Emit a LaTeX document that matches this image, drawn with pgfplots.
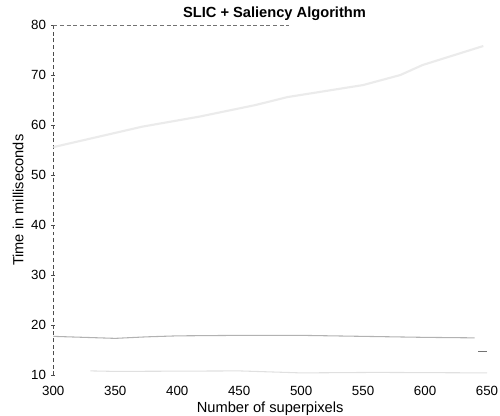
\documentclass[border=0pt]{standalone}
\usepackage{pgfplots}
\pgfplotsset{compat=1.18}
\usepackage{fontspec}
\setmainfont{Liberation Sans}

% faded scan: lines are read off as far as they can be seen
\pgfplotstableread{
x    t
300  55.6
372  59.7
418  61.7
463  64.0
489  65.6
550  68.0
580  70.0
598  72.0
647  75.8
}\upperdata
\pgfplotstableread{
x    t
300  17.8
350  17.4
375  17.7
400  17.9
450  18.0
500  18.0
550  17.8
600  17.6
640  17.5
}\lowerdata
\pgfplotstableread{
x    t
330  10.9
350  10.8
450  10.9
500  10.5
560  10.6
650  10.5
}\bottomdata

\begin{document}
\begin{tikzpicture}
\begin{axis}[
  scale only axis,
  width=325.5pt, height=263pt,
  xmin=300, xmax=650, ymin=10, ymax=80,
  xtick={300,350,...,650},
  ytick={10,20,...,80},
  /pgf/number format/assume math mode=true,
  tick label style={font=\fontsize{10}{11}\selectfont},
  xticklabel style={anchor=north, inner sep=0pt, yshift=-6.5pt},
  yticklabel style={anchor=east, inner sep=0pt, xshift=-3.75pt},
  title={\textbf{SLIC + Saliency Algorithm}},
  title style={font=\fontsize{11}{12}\selectfont,
    at={(axis description cs:0.51,1.0152)}, anchor=base, inner sep=0pt,
    yshift=-4.5pt},
  xlabel={Number of superpixels},
  ylabel={Time in milliseconds},
  label style={font=\fontsize{11}{12}\selectfont, inner sep=0pt},
  xlabel style={at={(axis description cs:0.5,-0.1055)}, anchor=base},
  ylabel style={at={(axis description cs:-0.0691,0.5)}, anchor=base},
  axis x line*=bottom,
  axis y line*=left,
  x axis line style={draw=none},
  y axis line style={densely dashed, black!70},
  xtick style={draw=none},
  ytick style={black!70},
  tick align=center,
  major tick length=3pt,
]
\addplot[black!8, line width=1.6pt] table[x=x, y=t] {\upperdata};
\addplot[black!30, line width=0.8pt] table[x=x, y=t] {\lowerdata};
\addplot[black!12, line width=0.8pt] table[x=x, y=t] {\bottomdata};
\addplot[black!55, line width=0.8pt] coordinates {(643,14.8) (650,14.8)};
\addplot[black!55, densely dashed, line width=0.6pt] coordinates {(300,80) (490,80)};
\end{axis}
\pgfresetboundingbox
\path (current axis.south west) ++(-40pt,-30pt) rectangle
      ([xshift=9.75pt, yshift=18.75pt]current axis.north east);
\end{tikzpicture}
\end{document}
